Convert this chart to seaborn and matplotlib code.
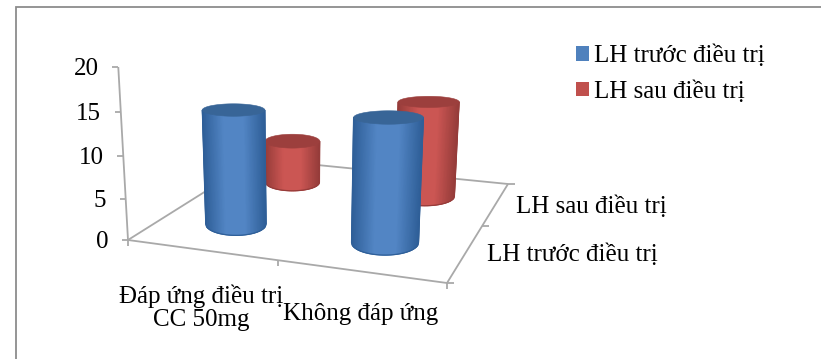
import numpy as np
import matplotlib
matplotlib.use("Agg")
import matplotlib.pyplot as plt
from matplotlib.patches import Patch, Polygon
import seaborn as sns

# ---- data ----
categories = ["Đáp ứng điều trị\nCC 50mg", "Không đáp ứng"]
series_names = ["LH trước điều trị", "LH sau điều trị"]
lh_before = [14.0, 14.6]
lh_after = [5.8, 12.6]
y_ticks = [0, 5, 10, 15, 20]

# ---- style ----
BLUE, BLUE_EDGE, BLUE_TOP = "#5285C4", "#2F5F98", "#386597"
RED, RED_EDGE, RED_TOP = "#CB5653", "#963C3A", "#9C3F3D"
AXIS = "#A9A9A9"
FRAME = "#8C8C8C"
FS = 18
RADIUS_U, RADIUS_V = 0.213, 0.235
FLATTEN = 0.014  # ellipses look flatter higher up

sns.set_theme(style="white")
plt.rcParams["font.family"] = ["Liberation Serif", "DejaVu Serif"]

fig = plt.figure(figsize=(8.21, 3.59), dpi=100)
ax = fig.add_axes([0, 0, 1, 1])

# ---- perspective camera of the 3-D chart: floor quad + vertical vanishing point ----
FL, FR, BR, BL = (128, 240), (447, 283), (508, 184), (257, 159)
VP = (300, 3300)
TOP_Y = 67
A, rhs = [], []
for (u, v), (x, y) in zip([(0, 0), (2, 0), (2, 2), (0, 2)], [FL, FR, BR, BL]):
    A.append([u, v, 1, 0, 0, 0, -u * x, -v * x]); rhs.append(x)
    A.append([0, 0, 0, u, v, 1, -u * y, -v * y]); rhs.append(y)
a, b, d, e, f, k, g, i = np.linalg.solve(np.array(A, float), np.array(rhs, float))
j = (FL[1] - TOP_Y) / (20 * (TOP_Y - VP[1]))


def project(u, v, h=0.0):
    """(category position, series depth, value) -> canvas coordinates"""
    u, v, h = np.asarray(u, float), np.asarray(v, float), np.asarray(h, float)
    w = g * u + i * v + j * h + 1
    return (a * u + b * v + d + j * VP[0] * h) / w, (e * u + f * v + k + j * VP[1] * h) / w


def line(p, q):
    ax.plot([p[0], q[0]], [p[1], q[1]], color=AXIS, lw=1.3, solid_capstyle="butt", zorder=1)


# ---- floor, axes, ticks ----
corners = [project(0, 0), project(2, 0), project(2, 2), project(0, 2), project(0, 0)]
for p, q in zip(corners[:-1], corners[1:]):
    line(p, q)
line(project(0, 0), project(0, 0, y_ticks[-1]))
for t in y_ticks:
    x, y = project(0, 0, t)
    line((x - 6, y), (x, y))
    ax.text(x - 19.5, y + 2, str(t), ha="right", va="center", fontsize=FS, color="black")
for u in range(3):
    x, y = project(u, 0)
    line((x, y), (x, y + 6))
for v in (0, 1, 2):
    x, y = project(2, v)
    line((x, y), (x + 7, y))

# category and depth labels, anchored on the floor ticks
lab0 = project(0.5, 0)
ax.text(lab0[0], lab0[1] + 58, categories[0], ha="center", va="center", fontsize=FS,
        linespacing=1.05, color="black")
lab1 = project(1.5, 0)
ax.text(lab1[0], lab1[1] + 43, categories[1], ha="center", va="center", fontsize=FS, color="black")
for v, name, dx, dy in [(0.5, series_names[0], 21, 2), (1.5, series_names[1], 20, 3)]:
    x, y = project(2, v)
    ax.text(x + dx, y + dy, name, ha="left", va="center", fontsize=FS, color="black")


def disc(u, v, h):
    """Level ellipse of a cylinder section: centre and half-axes on the canvas."""
    cx, cy = project(u, v, h)
    rx = (project(u + RADIUS_U, v, h)[0] - project(u - RADIUS_U, v, h)[0]) / 2
    ry = (project(u, v - RADIUS_V, h)[1] - project(u, v + RADIUS_V, h)[1]) / 2 * (1 - FLATTEN * h)
    return cx, cy, rx, ry


def cylinder(u, v, value, mid, edge, top, z):
    cmap = sns.blend_palette([edge, mid, mid, edge], 256, as_cmap=True)
    bcx, bcy, brx, bry = disc(u, v, 0)
    tcx, tcy, trx, try_ = disc(u, v, value)
    # the near side, left to right, with one smooth colour ramp across it
    sx = np.linspace(-1, 1, 81)
    sy = np.sqrt(1 - sx ** 2)
    bx, by = bcx + brx * sx, bcy + bry * sy
    tx, ty = tcx + trx * sx, tcy + try_ * sy
    shade = (sx + 1) / 2
    ax.pcolormesh(np.vstack([bx, tx]), np.vstack([by, ty]), np.vstack([shade, shade]),
                  shading="gouraud", cmap=cmap, vmin=0, vmax=1, zorder=z)
    # a smooth outline closes the body into one clean silhouette
    hull = np.column_stack([np.r_[bx, tx[-1], tx[0]], np.r_[by, ty[-1], ty[0]]])
    ax.add_patch(Polygon(hull, closed=True, fc="none", ec=edge, lw=0.9, snap=False, zorder=z + 0.2))
    full = np.linspace(0, 2 * np.pi, 181)
    ax.add_patch(Polygon(np.column_stack([tcx + trx * np.cos(full), tcy + try_ * np.sin(full)]),
                         closed=True, fc=top, ec=top, lw=0.4, snap=False, zorder=z + 0.5))


# back row first, so nearer cylinders overlap it
for c, val in enumerate(lh_after):
    cylinder(c + 0.5, 1.5, val, RED, RED_EDGE, RED_TOP, 3 + c * 0.1)
for c, val in enumerate(lh_before):
    cylinder(c + 0.5, 0.5, val, BLUE, BLUE_EDGE, BLUE_TOP, 5 + c)

# ---- legend ----
handles = [Patch(fc="#4F81BD", ec="none", label=series_names[0]),
           Patch(fc="#C0504D", ec="none", label=series_names[1])]
ax.legend(handles=handles, loc="upper left", bbox_to_anchor=(576 / 821, 1 - 45 / 359), frameon=False,
          fontsize=FS, handlelength=0.52, handleheight=0.52, handletextpad=0.2,
          labelspacing=0.52, borderpad=0, borderaxespad=0, labelcolor="black")

# ---- chart frame (left and top only are in view) ----
ax.plot([16, 16, 821], [359, 7, 7], color=FRAME, lw=1.3, solid_joinstyle="miter", zorder=0, clip_on=False)

ax.set_xlim(0, 821)
ax.set_ylim(359, 0)
ax.axis("off")

fig.savefig("out.png", dpi=100, facecolor="white")
